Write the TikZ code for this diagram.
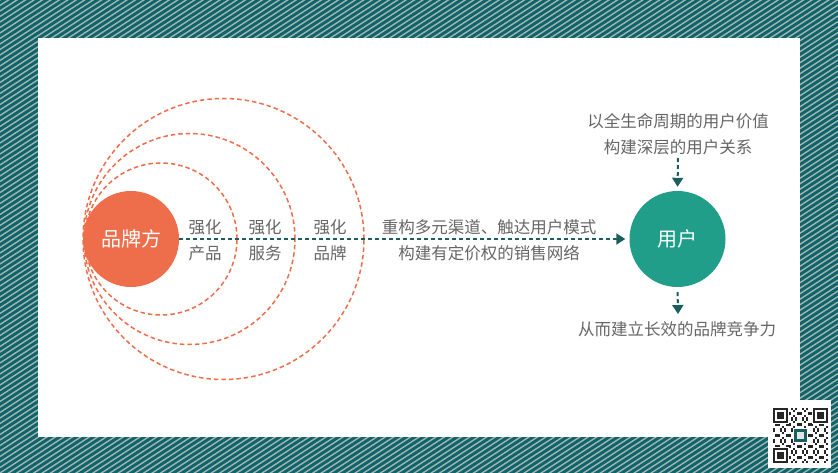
\documentclass[tikz,border=0pt]{standalone}
\usepackage{fontspec}
\setmainfont{Noto Sans CJK SC}
\usetikzlibrary{arrows.meta}
\definecolor{bgteal}{HTML}{0F6469}
\definecolor{stripecol}{HTML}{A3B4B4}
\definecolor{orangec}{HTML}{EE6D4B}
\definecolor{tealc}{HTML}{219E89}
\definecolor{darkteal}{HTML}{1B5E5F}
\definecolor{txtgray}{HTML}{666666}
\tikzset{
  ring/.style={draw=orangec, line width=1.5pt, dash pattern=on 4.5pt off 3pt},
  conn/.style={draw=darkteal, line width=2pt, dash pattern=on 4pt off 3pt, -{Triangle[length=9pt,width=11pt]}},
  lbl/.style={text=txtgray, align=center, font=\fontsize{16.5}{26}\selectfont},
  bigdot/.style={circle, minimum size=96pt, inner sep=0pt, text=white, font=\fontsize{20}{24}\selectfont},
  qrmod/.style={fill=black!85}
}
\begin{document}
\begin{tikzpicture}[x=1pt,y=-1pt]
\useasboundingbox (0,0) rectangle (838,473);
% striped background
\fill[bgteal] (0,0) rectangle (838,473);
\begin{scope}
\clip (0,0) rectangle (838,473);
\foreach \c in {0,5.5,...,1100}
  \draw[stripecol, line width=1.4pt] (0,\c) -- (838,\c-545);
\end{scope}
\fill[white] (38,38) rectangle (800,437);

% rings
\node[ring, circle, minimum size=152pt, inner sep=0pt] (r1) at (161,239) {};
\node[ring, circle, minimum size=211pt, inner sep=0pt] (r2) at (189.5,239) {};
\node[ring, circle, minimum size=281pt, inner sep=0pt] (r3) at (223.5,239) {};

% main nodes
\node[bigdot, fill=orangec] (brand) at (131,239) {品牌方};
\node[bigdot, fill=tealc] (user) at (677.5,239) {用户};

% labels on rings
\node[lbl] (l1) at (205,240) {强化\\产品};
\node[lbl] (l2) at (265,240) {强化\\服务};
\node[lbl] (l3) at (330,240) {强化\\品牌};

% connector
\draw[conn, shorten >=4pt] (brand.east) -- (user.west);
\node[lbl] (chan) at (489,240) {重构多元渠道、触达用户模式\\构建有定价权的销售网络};

% top
\node[lbl] (top) at (678,134) {以全生命周期的用户价值\\构建深层的用户关系};
\coordinate (topstart) at (678,158);
\draw[conn, shorten >=4pt] (topstart) -- (user.north);
% bottom
\coordinate (botend) at (678,314);
\draw[conn, shorten <=5pt] (user.south) -- (botend);
\node[lbl] (bot) at (677,329) {从而建立长效的品牌竞争力};

% QR code
\fill[white] (768,400) rectangle (831,468);
\begin{scope}[shift={(773,408)}]
\foreach \i in {0,...,24}{
  \foreach \j in {0,...,24}{
    \pgfmathtruncatemacro\v{mod(\i*\i*3+\j*7+\i*\j*5+\j*\j*2+\i,5)}
    \ifnum\v<2 \fill[qrmod] (\i*2.2,\j*2.2) rectangle ++(2.2,2.2); \fi
  }
}
\foreach \ox/\oy in {0/0, 18/0, 0/18}{
  \fill[white] (\ox*2.2-1,\oy*2.2-1) rectangle ++(7*2.2+2,7*2.2+2);
  \fill[qrmod] (\ox*2.2,\oy*2.2) rectangle ++(7*2.2,7*2.2);
  \fill[white] (\ox*2.2+2.2,\oy*2.2+2.2) rectangle ++(5*2.2,5*2.2);
  \fill[qrmod] (\ox*2.2+4.4,\oy*2.2+4.4) rectangle ++(3*2.2,3*2.2);
}
\fill[white] (9*2.2,9*2.2) rectangle ++(7*2.2,7*2.2);
\fill[darkteal] (9.7*2.2,9.7*2.2) rectangle ++(5.6*2.2,5.6*2.2);
\fill[white!85!darkteal] (11*2.2,11*2.2) rectangle ++(3*2.2,3*2.2);
\end{scope}
\end{tikzpicture}
\end{document}
